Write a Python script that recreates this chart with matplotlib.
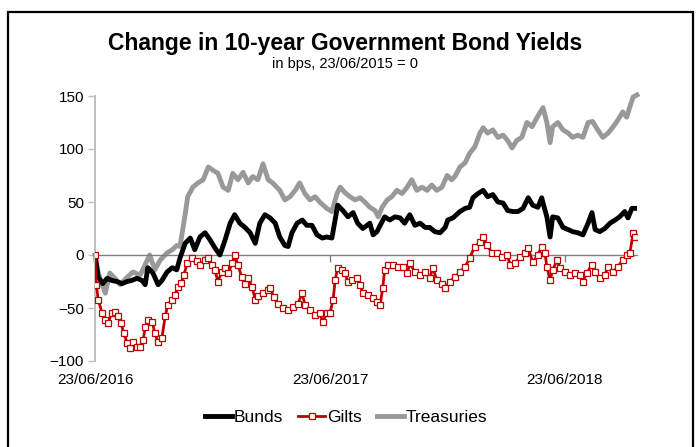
import matplotlib
matplotlib.use("Agg")
import matplotlib.pyplot as plt
from matplotlib.patches import Rectangle
import pandas as pd

plt.rcParams["font.family"] = ["Liberation Sans", "DejaVu Sans"]

# Change in yield (bps) against days elapsed since 23/06/2016
start_date = "2016-06-23"

bund_days = [0, 5, 12, 19, 26, 34, 42, 50, 57, 65, 73, 78, 82, 90, 98, 104, 112, 120, 127, 132,
             140, 148, 155, 163, 171, 179, 186, 194, 202, 210, 217, 225, 233, 241, 249, 256, 264,
             272, 280, 287, 295, 300, 306, 314, 322, 329, 337, 345, 353, 360, 368, 373, 377, 385,
             393, 401, 408, 416, 427, 432, 438, 443, 450, 458, 466, 474, 481, 489, 497, 505, 513,
             520, 528, 536, 544, 548, 556, 567, 575, 582, 587, 595, 603, 610, 618, 626, 634, 641,
             649, 657, 665, 673, 680, 688, 694, 696, 702, 707, 711, 719, 727, 735, 742, 750, 758,
             766, 772, 777, 784, 792, 800, 808, 815, 823, 828, 834, 839]
bund_bps = [0, -21, -27, -22, -24, -25, -27, -25, -24, -22, -24, -28, -12, -17, -28, -24, -16, -12, -14, -3,
            11, 16, 5, 17, 21, 14, 7, 0, 14, 30, 38, 30, 26, 21, 11, 30, 38,
            35, 30, 17, 9, 8, 21, 30, 33, 28, 28, 19, 16, 17, 16, 33, 47, 42,
            36, 40, 30, 25, 30, 19, 22, 28, 36, 33, 36, 35, 30, 38, 28, 30, 26,
            26, 22, 21, 26, 33, 35, 41, 44, 45, 54, 58, 61, 55, 57, 50, 49, 42,
            41, 41, 44, 54, 47, 45, 54, 49, 36, 17, 36, 35, 26, 24, 22, 21, 19,
            30, 40, 24, 22, 25, 30, 33, 36, 41, 35, 44, 44]

gilt_days = [0, 2, 5, 11, 16, 20, 26, 31, 36, 40, 45, 50, 54, 59, 65, 70, 75, 78, 82, 89, 93, 98,
             104, 109, 113, 120, 124, 129, 134, 138, 143, 151, 158, 163, 171, 176, 182, 186, 191,
             197, 202, 207, 213, 217, 222, 228, 233, 238, 244, 249, 253, 261, 269, 272, 278, 284,
             292, 300, 308, 315, 322, 326, 334, 342, 349, 354, 360, 365, 370, 373, 377, 384, 388,
             393, 399, 407, 412, 416, 424, 432, 438, 443, 447, 450, 455, 463, 471, 478, 485, 489,
             497, 505, 513, 520, 525, 531, 539, 544, 551, 559, 567, 575, 582, 590, 598, 603, 609,
             617, 624, 632, 640, 645, 652, 660, 668, 673, 680, 688, 694, 699, 702, 707, 711, 718,
             722, 730, 738, 746, 753, 758, 764, 772, 777, 784, 792, 797, 805, 812, 820, 826, 831,
             836, 839]
gilt_bps = [0, -28, -42, -55, -61, -64, -55, -54, -58, -64, -74, -83, -88, -82, -87, -87, -80, -68, -61, -63, -74, -82,
            -78, -58, -47, -42, -38, -30, -26, -19, -8, -3, -6, -9, -5, -3, -9, -14, -25,
            -16, -12, -17, -8, 0, -9, -21, -27, -22, -30, -42, -39, -36, -33, -31, -40, -46,
            -50, -52, -49, -46, -36, -47, -52, -57, -55, -63, -55, -55, -42, -24, -12, -14, -17,
            -25, -24, -22, -28, -36, -38, -41, -44, -47, -31, -14, -9, -9, -11, -11, -17, -8,
            -16, -19, -16, -22, -12, -24, -27, -31, -25, -21, -16, -11, -3, 8, 12, 17, 9,
            2, 2, -2, 0, -9, -8, -2, 2, 7, -7, 0, 8, 2, -11, -24, -14, -5,
            -12, -16, -19, -17, -19, -25, -17, -9, -16, -22, -19, -11, -16, -11, -5, 0, 2,
            21, 17]

tsy_days = [0, 5, 16, 23, 34, 39, 50, 59, 70, 75, 81, 85, 93, 101, 112, 120, 127, 132, 140, 144,
            152, 160, 168, 176, 183, 191, 199, 207, 214, 222, 230, 238, 245, 253, 261, 269, 276,
            287, 295, 303, 311, 318, 326, 334, 342, 349, 360, 368, 376, 381, 388, 396, 404, 412,
            419, 427, 435, 440, 446, 454, 461, 469, 477, 485, 492, 500, 508, 516, 523, 531, 539,
            547, 554, 559, 567, 575, 582, 590, 598, 603, 610, 618, 626, 634, 641, 648, 655, 663,
            671, 679, 686, 691, 696, 702, 707, 711, 719, 727, 735, 742, 750, 758, 766, 773, 781,
            789, 797, 805, 812, 820, 826, 831, 836, 842]
tsy_bps = [0, -17, -36, -17, -24, -28, -21, -16, -19, -13, -5, 0, -14, -5, 2, 5, 9, 8, 38, 55,
           64, 68, 71, 83, 80, 77, 64, 61, 77, 71, 78, 68, 74, 71, 86, 71, 68,
           61, 52, 55, 61, 68, 58, 52, 55, 50, 44, 41, 58, 64, 59, 55, 52, 54,
           50, 45, 42, 36, 45, 52, 55, 61, 58, 64, 71, 61, 64, 61, 66, 61, 64,
           75, 71, 74, 83, 87, 96, 102, 115, 120, 115, 118, 111, 113, 108, 101, 108, 111,
           125, 121, 129, 134, 139, 125, 106, 121, 125, 118, 115, 111, 113, 111, 125, 126, 118,
           111, 115, 121, 127, 135, 130, 140, 149, 151]

tick_dates = ["2016-06-23", "2017-06-23", "2018-06-23"]
y_ticks = [-100, -50, 0, 50, 100, 150]

t0 = pd.Timestamp(start_date)


def to_dates(days):
    return t0 + pd.to_timedelta(days, unit="D")


fig = plt.figure(figsize=(6.98, 4.47), dpi=100)

# outer frame
fig.patches.append(Rectangle((8 / 698, -0.05), (693 - 8) / 698, 0.05 + 1 - 12 / 447,
                             transform=fig.transFigure, fill=False, edgecolor="black",
                             linewidth=1.6, zorder=0))

ax = fig.add_axes([95 / 698, 86 / 447, (637 - 95) / 698, 265 / 447])

ax.plot(to_dates(bund_days), bund_bps, color="black", lw=3.5, label="Bunds",
        solid_joinstyle="round", zorder=3)
ax.plot(to_dates(gilt_days), gilt_bps, color="#C00000", lw=2.0, marker="s", ms=3.8,
        mfc="white", mec="#C00000", mew=0.9, label="Gilts", zorder=4)
ax.plot(to_dates(tsy_days), tsy_bps, color="#999999", lw=3.5, label="Treasuries",
        solid_joinstyle="round", zorder=2, clip_on=False)

ax.set_ylim(-100, 150)
ax.set_xlim(t0, to_dates([842])[0])
ax.set_yticks(y_ticks)
ax.tick_params(axis="y", direction="out", length=5, width=1, color="#bfbfbf",
               labelsize=11, pad=3)

for side in ("top", "right"):
    ax.spines[side].set_visible(False)
ax.spines["left"].set_color("#bfbfbf")
ax.spines["left"].set_linewidth(1.4)
ax.spines["bottom"].set_position(("data", 0))
ax.spines["bottom"].set_color("#808080")
ax.spines["bottom"].set_linewidth(1.0)

ticks = pd.to_datetime(tick_dates)
ax.set_xticks(ticks)
ax.tick_params(axis="x", direction="out", length=5, width=1, color="#808080",
               labelbottom=False)

# date labels sit below the plot area
sec = ax.secondary_xaxis(0.0)
sec.set_xticks(ticks)
sec.set_xticklabels([d.strftime("%d/%m/%Y") for d in ticks])
sec.tick_params(axis="x", length=0, labelsize=11, pad=9)
sec.spines["bottom"].set_visible(False)

fig.text(0.494, 0.903, "Change in 10-year Government Bond Yields", ha="center",
         va="center", fontsize=16.5, fontweight="bold")
fig.text(0.494, 0.857, "in bps, 23/06/2015 = 0", ha="center", va="center", fontsize=10.5)

fig.legend(loc="center", bbox_to_anchor=(0.496, 0.067), ncol=3, frameon=False,
           fontsize=12.5, handlelength=1.55, handletextpad=0.1, columnspacing=0.9,
           borderpad=0)

fig.savefig("out.png", dpi=100)
